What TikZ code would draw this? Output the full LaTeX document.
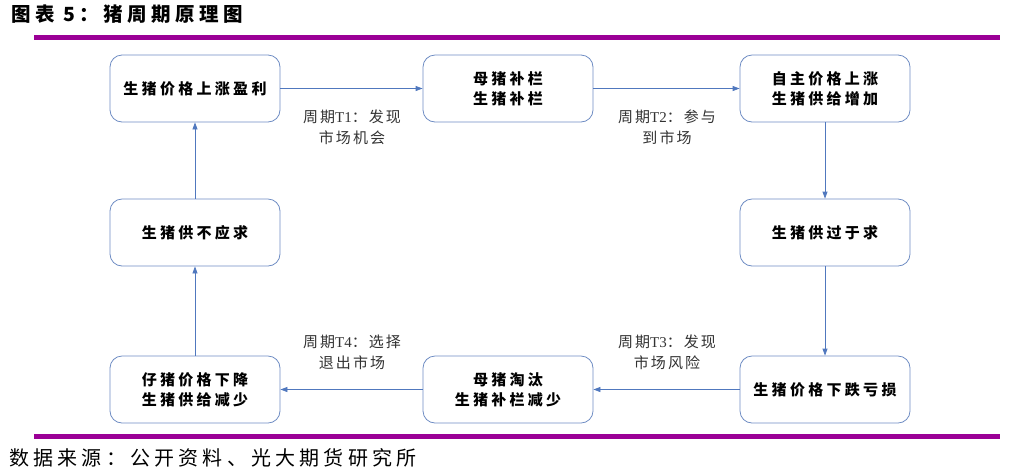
\documentclass[tikz,border=0pt]{standalone}
\usepackage{fontspec}
\usetikzlibrary{arrows.meta}
\newfontfamily\titlefont{Noto Sans CJK SC}[LetterSpace=23]
\newfontfamily\boxfont{Noto Sans CJK SC}[LetterSpace=22]
\newfontfamily\labfont{Noto Sans CJK SC}[LetterSpace=14]
\newfontfamily\srcfont{Noto Sans CJK SC}[LetterSpace=21]
\newfontfamily\latfont{Liberation Serif}
\definecolor{boxc}{RGB}{110,140,195}
\definecolor{arrc}{RGB}{80,120,190}
\definecolor{purp}{RGB}{155,0,150}
\definecolor{labc}{RGB}{50,50,50}
\tikzset{
  stage/.style={draw=boxc, rounded corners=12pt, minimum width=170pt, minimum height=67pt,
    line width=0.8pt, align=center, inner sep=0pt,
    font=\boxfont\bfseries\fontsize{15}{20}\selectfont},
  lab/.style={align=center, text=labc, inner sep=0pt,
    font=\labfont\fontsize{15}{21}\selectfont},
  flow/.style={draw=arrc, line width=0.8pt, -{Triangle[length=7pt,width=5pt]}},
  rule/.style={draw=purp, line width=4.5pt}
}
\begin{document}
\begin{tikzpicture}[x=1pt,y=-1pt]
\useasboundingbox (0,0) rectangle (1011,475);
\node[anchor=west, inner sep=0pt, font=\titlefont\bfseries\fontsize{19.5}{22}\selectfont] (title) at (11,14) {图表 5：猪周期原理图};
\coordinate (r1a) at (34,37.5);
\coordinate (r1b) at (1000,37.5);
\coordinate (r2a) at (34,436.5);
\coordinate (r2b) at (1000,436.5);
\draw[rule] (r1a) -- (r1b);
\draw[rule] (r2a) -- (r2b);

\node[stage] (a) at (195,88.5) {生猪价格上涨盈利};
\node[stage] (b) at (508,88.5) {母猪补栏\\生猪补栏};
\node[stage] (c) at (825,88.5) {自主价格上涨\\生猪供给增加};
\node[stage] (d) at (825,232.5) {生猪供过于求};
\node[stage] (e) at (825,389.5) {生猪价格下跌亏损};
\node[stage] (f) at (508,389.5) {母猪淘汰\\生猪补栏减少};
\node[stage] (g) at (195,389.5) {仔猪价格下降\\生猪供给减少};
\node[stage] (h) at (195,232.5) {生猪供不应求};

\draw[flow] (a) -- (b);
\draw[flow] (b) -- (c);
\draw[flow] (c) -- (d);
\draw[flow] (d) -- (e);
\draw[flow] (e) -- (f);
\draw[flow] (f) -- (g);
\draw[flow] (g) -- (h);
\draw[flow] (h) -- (a);

\node[lab] (t1) at (352,127) {周期{\latfont T1}：发现\\市场机会};
\node[lab] (t2) at (667,127) {周期{\latfont T2}：参与\\到市场};
\node[lab] (t3) at (667,352.5) {周期{\latfont T3}：发现\\市场风险};
\node[lab] (t4) at (352,352.5) {周期{\latfont T4}：选择\\退出市场};

\node[anchor=west, inner sep=0pt, font=\srcfont\fontsize{20}{22}\selectfont] (src) at (9,458) {数据来源：公开资料、光大期货研究所};
\end{tikzpicture}
\end{document}
